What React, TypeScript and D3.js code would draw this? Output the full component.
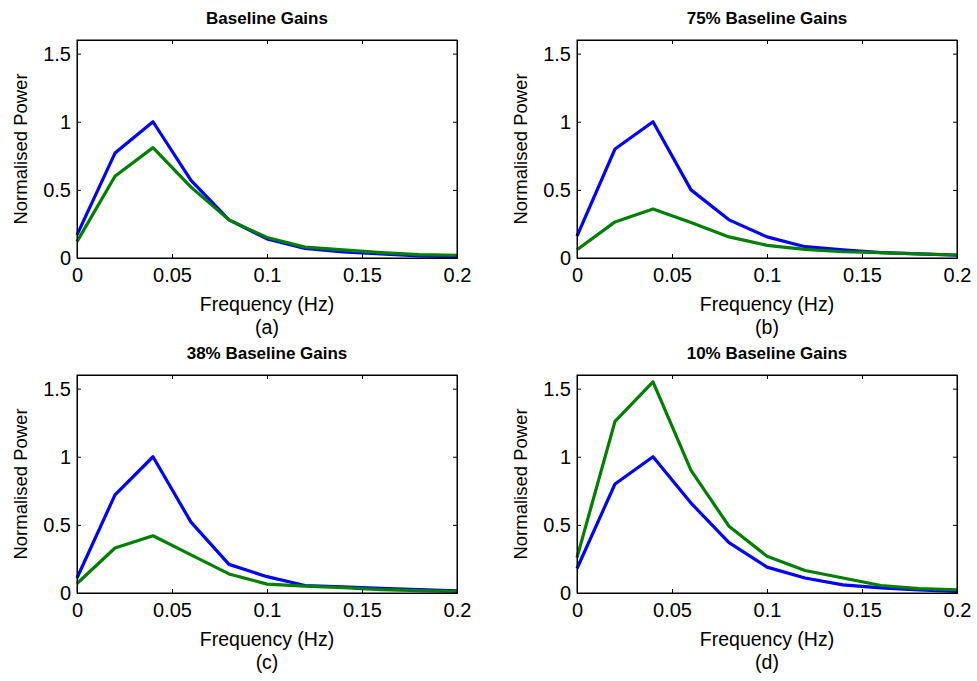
import * as d3 from 'd3';
import React, { useRef, useEffect } from 'react';

// frequency bins (Hz)
const freqs = [0, 0.02, 0.04, 0.06, 0.08, 0.1, 0.12, 0.14, 0.16, 0.18, 0.2];

const titles = ['Baseline Gains', '75% Baseline Gains', '38% Baseline Gains', '10% Baseline Gains'];
const captions = ['(a)', '(b)', '(c)', '(d)'];

const xTicks = [0, 0.05, 0.1, 0.15, 0.2];
const yTicks = [0, 0.5, 1, 1.5];

// blue = reference, green = reduced gains
const blueA = [0.17, 0.77, 1.0, 0.57, 0.28, 0.14, 0.07, 0.045, 0.03, 0.015, 0.01];
const greenA = [0.12, 0.6, 0.81, 0.52, 0.28, 0.15, 0.08, 0.06, 0.04, 0.025, 0.02];

const blueB = [0.16, 0.8, 1.0, 0.5, 0.28, 0.155, 0.083, 0.06, 0.04, 0.03, 0.02];
const greenB = [0.06, 0.265, 0.36, 0.26, 0.155, 0.093, 0.063, 0.046, 0.04, 0.03, 0.022];

const blueC = [0.11, 0.72, 1.0, 0.52, 0.21, 0.12, 0.055, 0.045, 0.035, 0.025, 0.015];
const greenC = [0.07, 0.33, 0.42, 0.28, 0.14, 0.065, 0.05, 0.04, 0.025, 0.017, 0.012];

const blueD = [0.18, 0.8, 1.0, 0.66, 0.37, 0.19, 0.11, 0.06, 0.037, 0.022, 0.012];
const greenD = [0.26, 1.26, 1.55, 0.9, 0.49, 0.27, 0.165, 0.11, 0.055, 0.032, 0.024];

const panels = [
  { blue: blueA, green: greenA },
  { blue: blueB, green: greenB },
  { blue: blueC, green: greenC },
  { blue: blueD, green: greenD },
];

const W = 977;
const H = 681;
const FONT = '"Liberation Sans", Arial, sans-serif';

function App() {
  const ref = useRef<SVGSVGElement>(null);

  useEffect(() => {
    const svg = d3.select(ref.current);
    svg.selectAll('*').remove();

    const pw = 380;
    const ph = 218;
    const lefts = [77, 577];
    const tops = [40, 375];

    panels.forEach((p, i) => {
      const col = i % 2;
      const row = Math.floor(i / 2);
      const g = svg.append('g').attr('transform', `translate(${lefts[col]},${tops[row]})`);

      const x = d3.scaleLinear().domain([0, 0.2]).range([0, pw]);
      const y = d3.scaleLinear().domain([0, 1.6]).range([ph, 0]);

      // lines
      const ln = d3.line<number>().x((d, k) => x(freqs[k])).y(d => y(d));
      g.append('path').datum(p.blue).attr('d', ln).attr('fill', 'none')
        .attr('stroke', '#0000ff').attr('stroke-width', 3.2).attr('stroke-linejoin', 'round');
      g.append('path').datum(p.green).attr('d', ln).attr('fill', 'none')
        .attr('stroke', '#007f00').attr('stroke-width', 3.2).attr('stroke-linejoin', 'round');

      // axes (inward ticks, matlab style)
      const xb = g.append('g').attr('transform', `translate(0,${ph})`)
        .call(d3.axisBottom(x).tickValues(xTicks).tickSize(-4).tickPadding(10).tickFormat(d => String(+d)));
      const xt = g.append('g').call(d3.axisTop(x).tickValues(xTicks).tickSize(-4).tickFormat(() => ''));
      const yl = g.append('g')
        .call(d3.axisLeft(y).tickValues(yTicks).tickSize(-4).tickPadding(6).tickFormat(d => String(+d)));
      const yr = g.append('g').attr('transform', `translate(${pw},0)`)
        .call(d3.axisRight(y).tickValues(yTicks).tickSize(-4).tickFormat(() => ''));
      [xb, xt, yl, yr].forEach(a => {
        a.select('.domain').attr('stroke', '#000');
        a.selectAll('line').attr('stroke', '#000');
        a.selectAll('text').attr('fill', '#000').style('font-family', FONT).style('font-size', '20px');
      });
      // hide tick marks at ends
      xb.selectAll('.tick line').filter((d: any) => d === 0 || d === 0.2).remove();
      xt.selectAll('.tick line').filter((d: any) => d === 0 || d === 0.2).remove();
      yl.selectAll('.tick line').filter((d: any) => d === 0).remove();
      yr.selectAll('.tick line').filter((d: any) => d === 0).remove();

      g.append('rect').attr('width', pw).attr('height', ph).attr('fill', 'none').attr('stroke', '#000');

      g.append('text').attr('x', pw / 2).attr('y', -16).attr('text-anchor', 'middle')
        .style('font-family', FONT).style('font-size', '17px').style('font-weight', 'bold')
        .text(titles[i]);
      g.append('text').attr('x', pw / 2).attr('y', ph + 53).attr('text-anchor', 'middle')
        .style('font-family', FONT).style('font-size', '19.5px').text('Frequency (Hz)');
      g.append('text').attr('x', pw / 2).attr('y', ph + 76).attr('text-anchor', 'middle')
        .style('font-family', FONT).style('font-size', '19.5px').text(captions[i]);
      g.append('text').attr('transform', `translate(-50,${ph / 2}) rotate(-90)`).attr('text-anchor', 'middle')
        .style('font-family', FONT).style('font-size', '18.5px').text('Normalised Power');
    });
  }, []);

  return (
    <div style={{ position: 'absolute', left: 0, top: 0 }}>
      <svg ref={ref} width={W} height={H} style={{ display: 'block', background: '#fff' }} />
    </div>
  );
}

export default App;
